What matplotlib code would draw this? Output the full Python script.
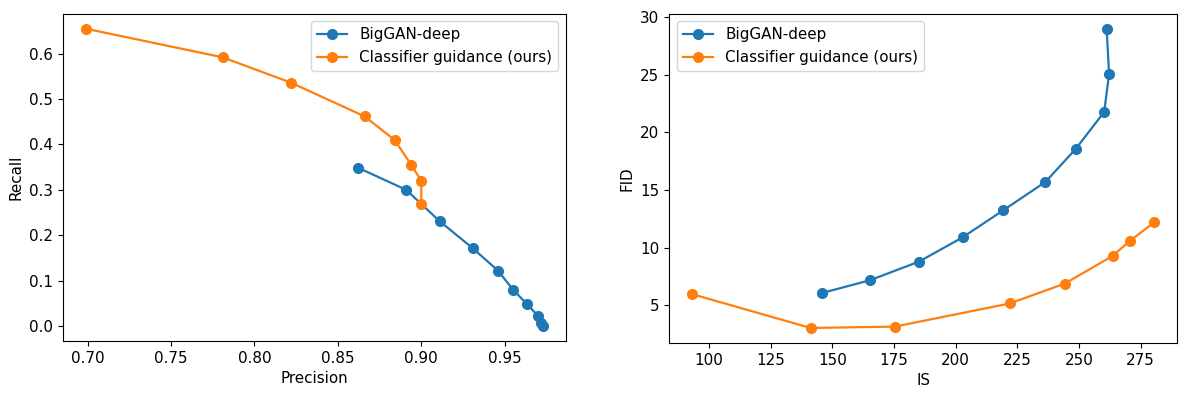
import matplotlib

matplotlib.use("Agg")
import matplotlib.pyplot as plt

# precision / recall sweep
biggan_precision = [0.862, 0.891, 0.911, 0.931, 0.946, 0.955, 0.9635, 0.970, 0.972, 0.973]
biggan_recall = [0.349, 0.300, 0.231, 0.171, 0.122, 0.080, 0.048, 0.022, 0.006, 0.000]
ours_precision = [0.699, 0.781, 0.822, 0.866, 0.884, 0.894, 0.900, 0.900]
ours_recall = [0.655, 0.592, 0.536, 0.462, 0.410, 0.355, 0.320, 0.269]

# IS / FID sweep
biggan_is = [145.7, 165.3, 185.2, 202.8, 219.2, 236.4, 248.6, 260.2, 262.2, 261.2]
biggan_fid = [6.04, 7.16, 8.78, 10.88, 13.22, 15.70, 18.55, 21.78, 25.07, 29.0]
ours_is = [93.2, 141.2, 175.4, 221.9, 244.3, 263.6, 270.6, 280.4]
ours_fid = [5.95, 3.01, 3.13, 5.14, 6.87, 9.27, 10.57, 12.18]

plt.rcParams["font.size"] = 10.9
plt.rcParams["lines.markersize"] = 7
plt.rcParams["lines.linewidth"] = 1.6

fig = plt.figure(figsize=(11.89, 3.96), dpi=100)
ax1 = fig.add_axes([0.053, 0.139, 0.423, 0.826])
ax2 = fig.add_axes([0.5627, 0.134, 0.4273, 0.831])

ax1.plot(biggan_precision, biggan_recall, marker="o", label="BigGAN-deep")
ax1.plot(ours_precision, ours_recall, marker="o", label="Classifier guidance (ours)")
ax1.set_xlabel("Precision")
ax1.set_ylabel("Recall")
ax1.legend(loc="upper right")

ax2.plot(biggan_is, biggan_fid, marker="o", label="BigGAN-deep")
ax2.plot(ours_is, ours_fid, marker="o", label="Classifier guidance (ours)")
ax2.set_xlabel("IS")
ax2.set_ylabel("FID")
ax2.legend(loc="upper left")

fig.savefig("out.png", dpi=100)
